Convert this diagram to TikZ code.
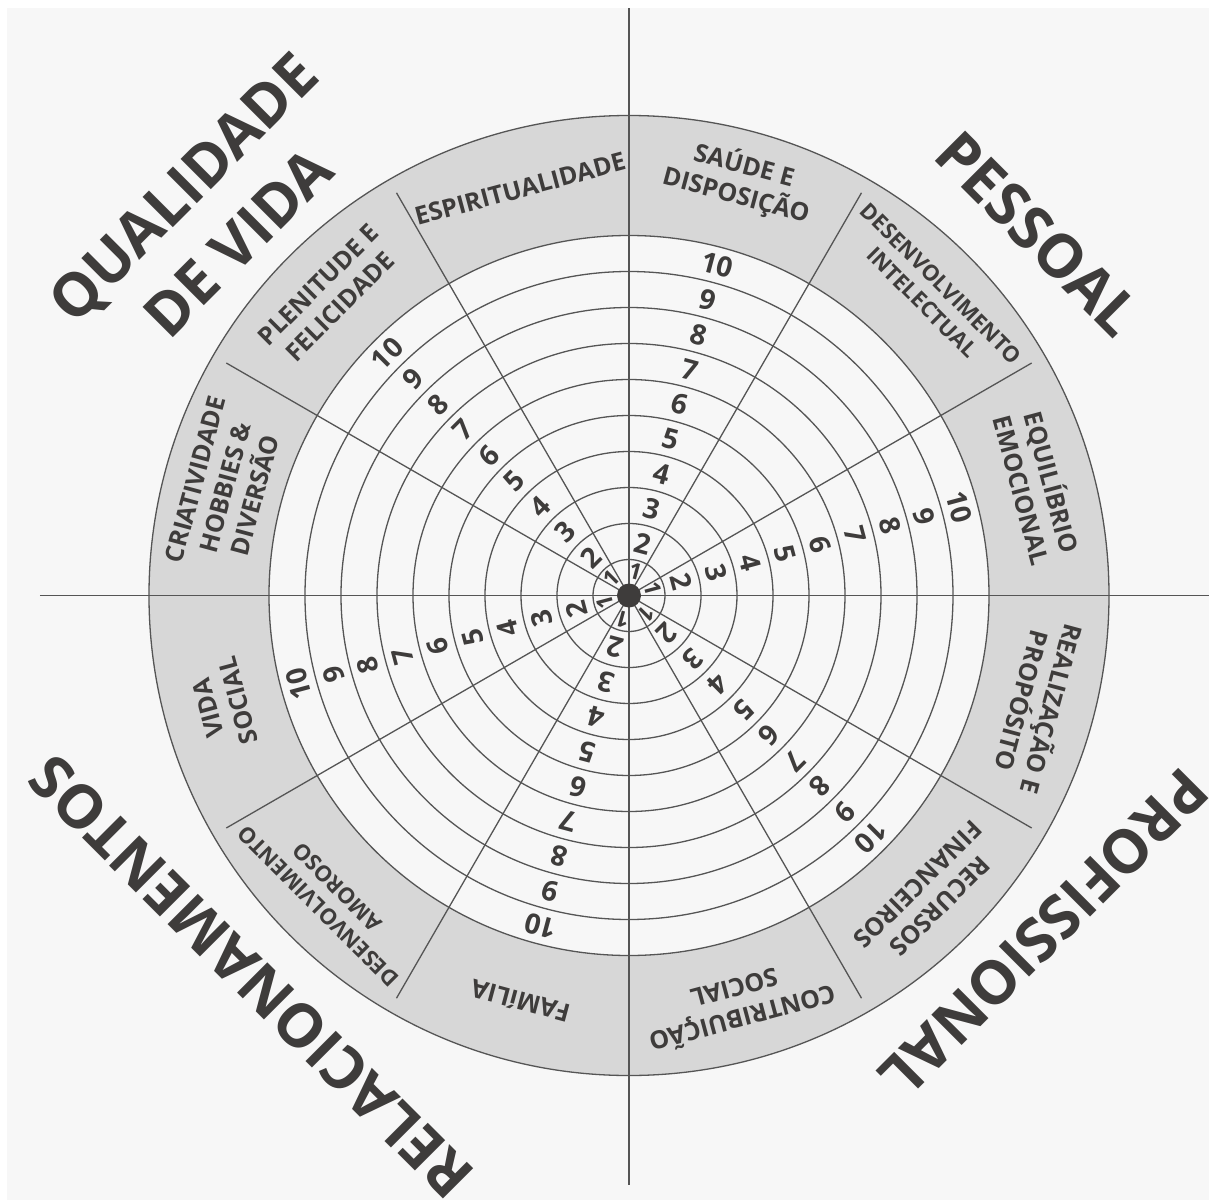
\documentclass[tikz,border=0pt]{standalone}
\usepackage{fontspec}
\setmainfont{Open Sans}
\usetikzlibrary{positioning}
\definecolor{bgcol}{HTML}{F7F7F7}
\definecolor{bandcol}{HTML}{D7D7D7}
\definecolor{linecol}{HTML}{555555}
\definecolor{inkcol}{HTML}{3E3C3B}
\tikzset{ring/.style={draw=linecol,line width=1.3pt},
         spoke/.style={draw=linecol,line width=1.3pt},
         hub/.style={circle,fill=inkcol,minimum size=24pt,inner sep=0pt},
         area/.style={text=inkcol,font=\bfseries\fontsize{25}{31}\selectfont,align=center,inner sep=0pt},
         smallarea/.style={area,font=\bfseries\fontsize{22}{27}\selectfont},
         score/.style={text=inkcol,font=\bfseries\fontsize{28}{28}\selectfont,inner sep=0pt},
         quadrant/.style={text=inkcol,font=\bfseries\fontsize{60}{78}\selectfont,align=center,inner sep=0pt}
}

\begin{document}
\begin{tikzpicture}[x=1pt,y=1pt]
\useasboundingbox (-629,-604.5) rectangle (580,595.5);
\fill[white] (-629,-604.5) rectangle (580,595.5);
\fill[bgcol] (-622,-604.5) rectangle (580,587.5);

%band and scale rings
\fill[bandcol] (0,0) circle (480);
\fill[bgcol] (0,0) circle (360);
\foreach \k in {1,...,10}
  \draw[ring] (0,0) circle ({36*\k});
\draw[ring] (0,0) circle (480);

%spokes and axes
\coordinate (hubc) at (0,0);
\foreach \a in {30,60,120,150,210,240,300,330}
  \coordinate (rim-\a) at (\a:465);
\coordinate (top) at (0,587.5);
\coordinate (bottom) at (0,-589);
\coordinate (left) at (-589,0);
\coordinate (right) at (580,0);
\foreach \a in {30,60,120,150,210,240,300,330}
  \draw[spoke] (hubc) -- (rim-\a);
\draw[spoke] (bottom) -- (top);
\draw[spoke] (left) -- (right);
\node[hub] (hub) at (hubc) {};

%scores
\foreach \a in {15,75,135,195,255,315}{
  \node[score,rotate=\a-90,scale=0.8] (score-\a-1) at (\a:25) {1};
  \foreach \k in {2,...,10}
    \node[score,rotate=\a-90] (score-\a-\k) at (\a:{36*\k-18}) {\k};
}

%areas
\node[area,rotate=-15] (saude) at (75:430) {SAÚDE E\\DISPOSIÇÃO};
\node[smallarea,rotate=-45] (intelecto) at (45:428) {DESENVOLVIMENTO\\INTELECTUAL};
\node[area,rotate=-75] (emocional) at (15:424) {EQUILÍBRIO\\EMOCIONAL};
\node[area,rotate=-105] (proposito) at (-15:424) {REALIZAÇÃO E\\PROPÓSITO};
\node[area,rotate=-135] (financas) at (-45:424) {RECURSOS\\FINANCEIROS};
\node[area,rotate=-165] (contribuicao) at (-75:424) {CONTRIBUIÇÃO\\SOCIAL};
\node[area,rotate=165] (familia) at (-105:420) {FAMíLIA};
\node[smallarea,rotate=135] (amoroso) at (-135:426) {DESENVOLVIMENTO\\AMOROSO};
\node[area,rotate=105] (social) at (195:420) {VIDA\\SOCIAL};
\node[area,rotate=75] (criatividade) at (165:418) {CRIATIVIDADE\\HOBBIES \&\\DIVERSÃO};
\node[area,rotate=45] (plenitude) at (135:424) {PLENITUDE E\\FELICIDADE};
\node[area,rotate=15] (espiritual) at (105:421) {ESPIRITUALIDADE};

%quadrants
\node[quadrant,rotate=-45] (pessoal) at (41.5:546) {PESSOAL};
\node[quadrant,rotate=45] (qualidade) at (137.7:566) {QUALIDADE\\DE VIDA};
\node[quadrant,rotate=135] (relacoes) at (225.3:537) {RELACIONAMENTOS};
\node[quadrant,rotate=-135] (profissional) at (-39.2:535) {PROFISSIONAL};
\end{tikzpicture}
\end{document}
